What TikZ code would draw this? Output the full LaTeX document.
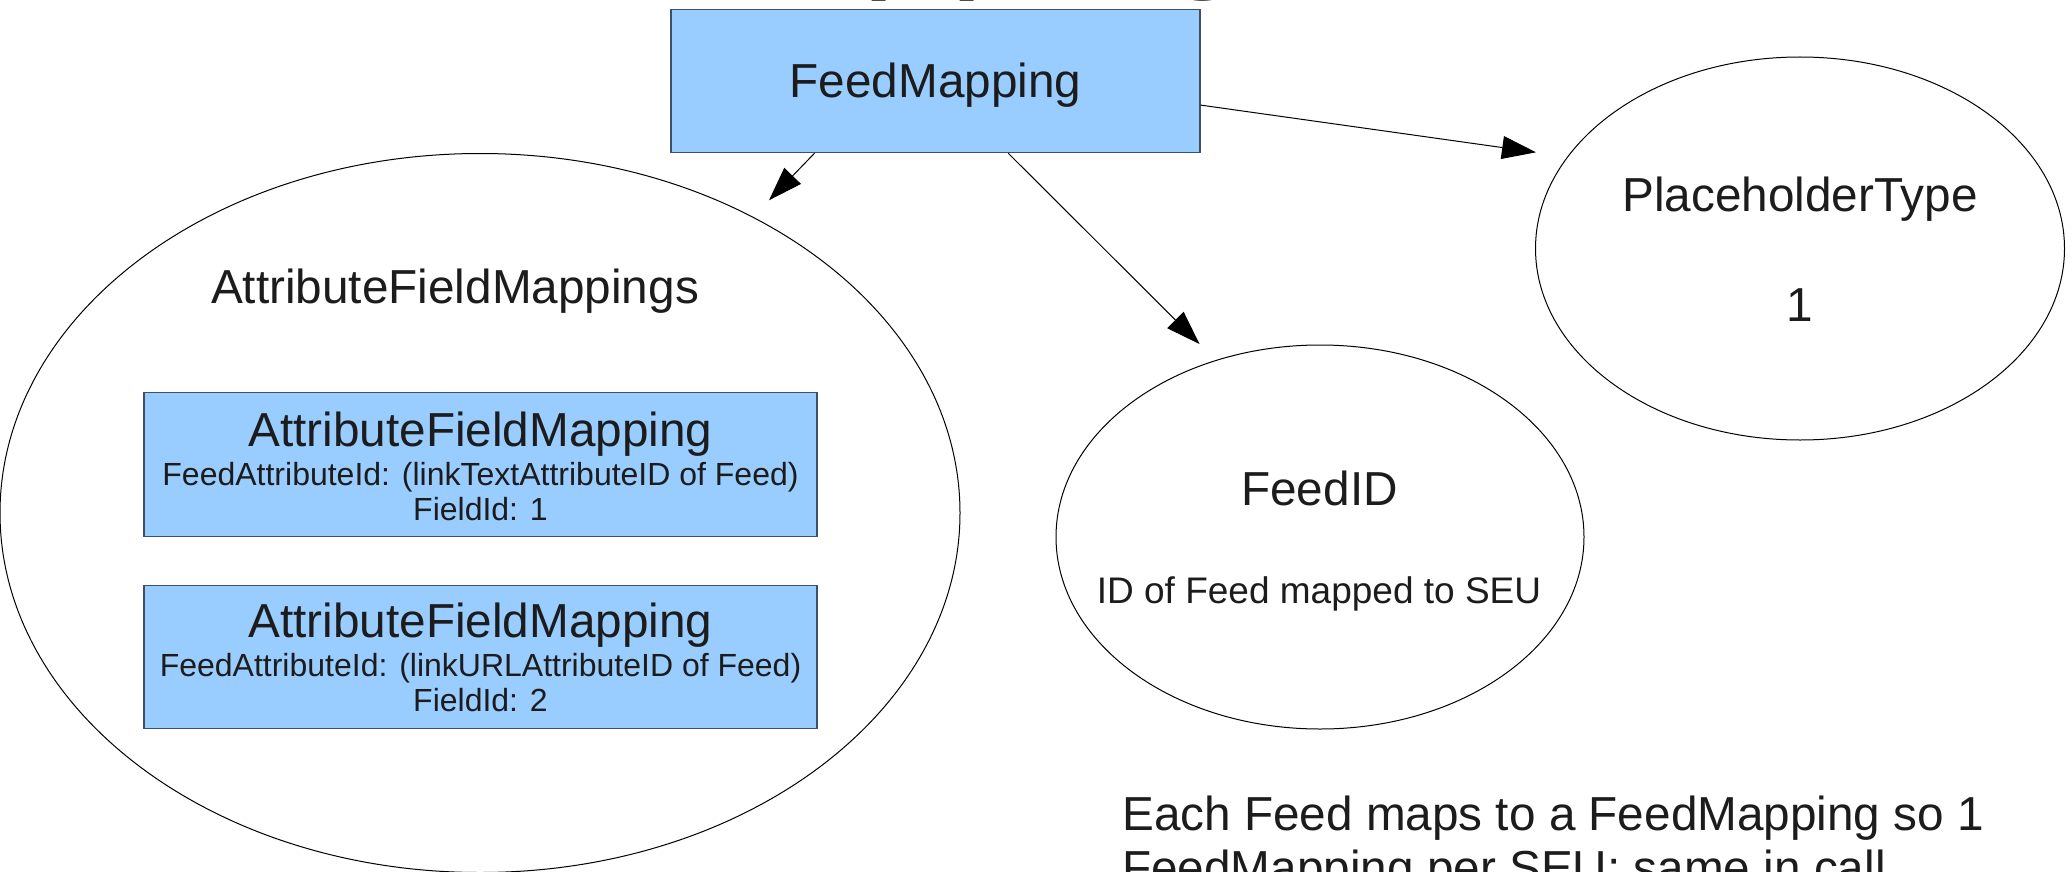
\documentclass[tikz,border=0pt]{standalone}
\usepackage{fontspec}
\setmainfont{Liberation Sans}
\usetikzlibrary{shapes.geometric,arrows.meta,calc}
\definecolor{boxblue}{HTML}{99CCFF}
\definecolor{boxline}{HTML}{3F4F66}
\definecolor{ink}{HTML}{1C1C1C}

\begin{document}
\begin{tikzpicture}[x=1pt,y=-1pt,
  lbl/.style={inner sep=0pt, text=ink, anchor=base},
  hugetext/.style={font=\fontsize{158}{180}\selectfont},
  maintext/.style={font=\fontsize{47.7}{55}\selectfont},
  midtext/.style={font=\fontsize{37}{44}\selectfont},
  smalltext/.style={font=\fontsize{32}{38}\selectfont},
  bluebox/.style={draw=boxline, fill=boxblue, line width=1.3pt, inner sep=0pt},
  oval/.style={draw=black, ellipse, line width=1pt, inner sep=0pt},
  arr/.style={draw=black, line width=1pt, -{Triangle[length=34pt,width=23pt]}}]

\useasboundingbox (0,0) rectangle (2072,872);
\fill[white] (0,0) rectangle (2072,872);

% heading, mostly above the page
\node[lbl, hugetext, anchor=base west] (title) at (282,-31) {FeedMapping};

% outlines
\node[oval, minimum width=960pt, minimum height=719pt] (afm) at (480,513) {};
\node[oval, minimum width=528pt, minimum height=384pt] (fid) at (1320,537) {};
\node[oval, minimum width=529pt, minimum height=383pt] (pht) at (1800,248.5) {};
\node[bluebox, minimum width=529pt, minimum height=143pt] (fm) at (935.5,81) {};
\node[bluebox, minimum width=673pt, minimum height=144pt] (afm1) at (480.5,464.5) {};
\node[bluebox, minimum width=673pt, minimum height=143pt] (afm2) at (480.5,657) {};

% labels
\node[lbl, maintext] (fmt) at (935.5,97.7) {FeedMapping};
\node[lbl, maintext] (afmt) at (455,303) {AttributeFieldMappings};

\node[lbl, maintext] (a1a) at (480.5,446) {AttributeFieldMapping};
\node[lbl, smalltext] (a1b) at (480.5,485) {FeedAttributeId: (linkTextAttributeID of Feed)};
\node[lbl, smalltext] (a1c) at (480.5,520) {FieldId: 1};

\node[lbl, maintext] (a2a) at (480.5,637.7) {AttributeFieldMapping};
\node[lbl, smalltext] (a2b) at (480.5,676.7) {FeedAttributeId: (linkURLAttributeID of Feed)};
\node[lbl, smalltext] (a2c) at (480.5,711.7) {FieldId: 2};

\node[lbl, maintext] (fidt) at (1319.5,505) {FeedID};
\node[lbl, midtext] (fids) at (1319,603) {ID of Feed mapped to SEU};

\node[lbl, maintext] (phtt) at (1800,211) {PlaceholderType};
\node[lbl, maintext] (phtv) at (1800,321) {1};

\node[lbl, maintext, anchor=base west] (note1) at (1122,830) {Each Feed maps to a FeedMapping so 1};
\node[lbl, maintext, anchor=base west] (note2) at (1122,884) {FeedMapping per SEU; same in call};

% connectors
\coordinate (a1t) at (769,200.3);
\coordinate (a2t) at (1199.5,344);
\coordinate (a3t) at (1536,152.3);
\draw[arr] ($(fm.south west)!0.272!(fm.south east)$) -- (a1t);
\draw[arr] ($(fm.south west)!0.637!(fm.south east)$) -- (a2t);
\draw[arr] ($(fm.north east)!0.667!(fm.south east)$) -- (a3t);
\end{tikzpicture}
\end{document}
